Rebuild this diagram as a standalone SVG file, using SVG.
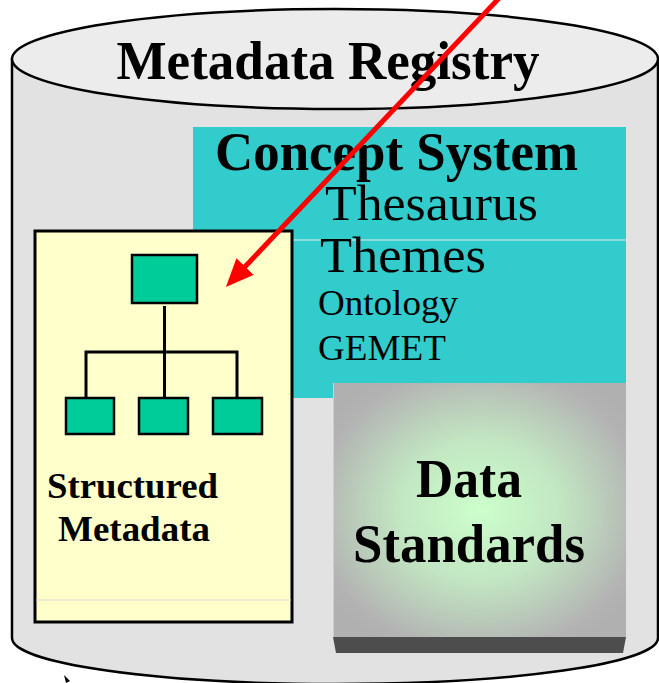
<svg xmlns="http://www.w3.org/2000/svg" width="659" height="683" viewBox="0 0 659 683">
<style>
.serif{font-family:"Liberation Serif","Times New Roman",serif;fill:#000}
.b{font-weight:bold}
.tree{fill:#00CC99;stroke:#000;stroke-width:2.5}
.wire{stroke:#000;stroke-width:3;fill:none}
</style>
<defs>
<radialGradient id="dsGrad" cx="0.5" cy="0.5" r="0.62">
<stop offset="0" stop-color="#ccffcc"/>
<stop offset="0.45" stop-color="#c2e6c2"/>
<stop offset="0.9" stop-color="#b3b3b3"/>
<stop offset="1" stop-color="#b0b0b0"/>
</radialGradient>
<marker id="redHead" markerUnits="userSpaceOnUse" markerWidth="28" markerHeight="24" viewBox="0 0 28 24" refX="4" refY="12" orient="auto">
<path d="M0,0 L28,12 L0,24 z" fill="#ff0000"/>
</marker>
</defs>
<rect width="659" height="683" fill="#ffffff"/>
<g id="registry">
<path d="M12,59 L12,638 A323,46 0 0 0 658,638 L658,59 Z" fill="#e2e2e2" stroke="#000" stroke-width="2.5"/>
<ellipse cx="335" cy="59" rx="323" ry="50" fill="#ececec" stroke="#000" stroke-width="2.5"/>
<text class="serif b" x="328" y="79" font-size="55" text-anchor="middle" textLength="423" lengthAdjust="spacingAndGlyphs">Metadata Registry</text>
</g>
<g id="concept-system">
<rect x="193" y="127" width="433" height="271" fill="#33CCCC"/>
<line x1="293" y1="240" x2="626" y2="240" stroke="#e8e8e8" stroke-width="1"/>
<text class="serif b" x="215" y="170" font-size="54" textLength="363" lengthAdjust="spacingAndGlyphs">Concept System</text>
<text class="serif" x="325" y="220" font-size="51" textLength="213" lengthAdjust="spacingAndGlyphs">Thesaurus</text>
<text class="serif" x="320" y="272" font-size="51" textLength="166" lengthAdjust="spacingAndGlyphs">Themes</text>
<text class="serif" x="318" y="315" font-size="35" textLength="140" lengthAdjust="spacingAndGlyphs">Ontology</text>
<text class="serif" x="318" y="360" font-size="35" textLength="128" lengthAdjust="spacingAndGlyphs">GEMET</text>
</g>
<g id="structured-metadata">
<rect x="35" y="231" width="257" height="391" fill="#FFFFCC" stroke="#000" stroke-width="3"/>
<line x1="36" y1="600" x2="291" y2="600" stroke="#d8d8d8" stroke-width="1"/>
<rect class="tree" x="132" y="255" width="65" height="48"/>
<path class="wire" d="M164.5,306 V352 M86,400 V352 H237 V400 M164.5,352 V400"/>
<rect class="tree" x="66" y="398" width="48" height="36"/>
<rect class="tree" x="139" y="398" width="49" height="36"/>
<rect class="tree" x="213" y="398" width="49" height="36"/>
<text class="serif b" x="47" y="498" font-size="35" textLength="171" lengthAdjust="spacingAndGlyphs">Structured</text>
<text class="serif b" x="58" y="541" font-size="35" textLength="152" lengthAdjust="spacingAndGlyphs">Metadata</text>
</g>
<g id="data-standards">
<path d="M333,637 L626,637 L623,653 L336,653 Z" fill="#4d4d4d"/>
<rect x="333" y="383" width="293" height="254" fill="url(#dsGrad)"/>
<line x1="333.5" y1="383" x2="333.5" y2="637" stroke="#cfcfcf" stroke-width="1"/>
<text class="serif b" x="469" y="497" font-size="55" text-anchor="middle" textLength="106" lengthAdjust="spacingAndGlyphs">Data</text>
<text class="serif b" x="469" y="562" font-size="55" text-anchor="middle" textLength="232" lengthAdjust="spacingAndGlyphs">Standards</text>
</g>
<g id="connectors">
<line x1="502" y1="-5" x2="242.4" y2="269.5" stroke="#ff0000" stroke-width="5" marker-end="url(#redHead)"/>
</g>
<path d="M64,675 L70,681 L66,683 Z" fill="#000"/>
</svg>
